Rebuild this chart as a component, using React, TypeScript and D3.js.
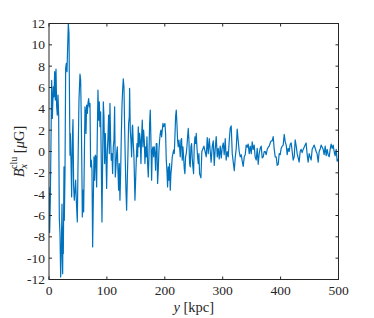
import React from "react";
import * as d3 from "d3";

const positionKpc = [
  0, 1.15, 2.3, 4.6, 5.75, 7.48, 8.63, 9.78, 10.93, 12.08, 13.23, 14.38, 15.54, 16.69, 17.84, 18.99, 20.14, 21.29, 22.44, 23.59, 24.17, 24.74, 25.89, 26.47, 27.62, 28.77, 29.92, 31.07, 32.22, 33.37, 34.52, 35.67, 36.25, 36.82, 37.97, 39.13, 40.28, 41.43, 42.58, 43.73, 44.88, 46.03, 47.18, 48.91, 50.06, 51.78, 53.51, 54.66, 55.81, 56.96, 57.54, 58.69, 59.84, 60.99, 62.14, 63.29, 63.87, 65.02, 66.17, 67.32, 68.47, 69.62, 70.77, 71.92, 73.07, 74.22, 75.37, 76.52, 77.68, 78.83, 79.98, 81.13, 82.28, 83.43, 84.58, 85.73, 86.88, 88.03, 89.18, 90.33, 91.48, 92.64, 93.79, 94.94, 96.09, 97.24, 98.39, 99.54, 100.69, 101.84, 102.99, 104.14, 105.29, 106.44, 107.59, 108.75, 109.9, 111.05, 112.2, 113.35, 114.5, 115.65, 116.8, 117.95, 119.1, 120.25, 121.4, 122.55, 123.7, 124.86, 126.01, 127.16, 128.31, 129.46, 130.61, 131.76, 132.91, 134.06, 135.21, 136.36, 137.51, 138.67, 139.24, 140.39, 141.54, 142.69, 143.84, 144.42, 145.57, 146.72, 148.45, 149.6, 150.75, 151.9, 153.05, 154.2, 155.35, 156.5, 157.65, 158.8, 159.95, 161.1, 162.26, 163.41, 164.56, 165.71, 166.86, 168.01, 169.16, 170.31, 171.46, 172.61, 173.76, 174.91, 176.06, 177.21, 178.37, 179.52, 180.67, 181.82, 182.97, 184.12, 185.27, 186.42, 187.57, 188.72, 189.87, 191.02, 192.17, 193.33, 194.48, 195.63, 196.78, 197.93, 199.08, 200.23, 201.38, 202.53, 203.68, 204.83, 205.98, 207.13, 208.29, 209.44, 210.59, 211.74, 212.89, 214.04, 215.19, 216.34, 217.49, 218.64, 219.79, 220.94, 222.09, 223.24, 224.4, 225.55, 226.7, 227.85, 229.0, 230.15, 231.3, 232.45, 233.6, 234.75, 235.9, 237.05, 238.2, 239.36, 240.51, 241.66, 242.81, 243.96, 245.11, 246.26, 247.41, 248.56, 249.71, 250.86, 252.01, 253.16, 254.31, 255.47, 256.62, 257.77, 258.92, 260.07, 262.37, 264, 267.5, 271.6, 273.3, 275, 276.8, 278.5, 280, 282, 283.7, 285.4, 287, 288.8, 290.6, 292.3, 294, 295.7, 297.5, 299, 301, 302.6, 304.4, 306, 307.8, 309.6, 311.3, 313, 314.7, 316.5, 318.2, 320, 321.6, 323.4, 325, 326.8, 328.5, 330.3, 332, 333.7, 335.4, 337.2, 338.9, 340.6, 342.3, 344, 345.8, 347.5, 349.3, 351, 352.7, 354.4, 356, 357.9, 359.6, 361.3, 363, 364.8, 366.5, 368.2, 370, 371.7, 373.4, 375.1, 376.9, 378.6, 380.3, 382, 383.8, 385.5, 387.2, 389, 390.7, 392.4, 394.1, 395.9, 397.6, 399.3, 401, 402.8, 404.5, 406.2, 408, 409.7, 411.4, 413, 414.8, 416.6, 418.3, 420, 421.7, 423.5, 425.2, 427, 428.6, 430.4, 432, 433.8, 435.5, 437.2, 439, 440.7, 442.4, 444.1, 445.9, 447.6, 449.3, 451, 452.8, 454.5, 456.2, 458, 459.7, 461.4, 463, 464.9, 466.6, 468.3, 470, 471.8, 473.5, 475.2, 477, 478.7, 480.4, 482.1, 483.9, 485.6, 487.3, 489, 490.8, 492.5, 494.2, 496, 497.7, 500,
];

const bxClu = [
  -3.32, -7.6, -4.57, 6.66, 3.1, 6.07, 5.13, 7.48, 4.82, 7.73, 4.19, 3.41, 5.29, 3.41, -6.29, -7.7, -11.76, -9.26, -4.94, -11.45, -7.07, -9.57, -1.44, -6.45, -2.07, 7.79, 8.26, 7.48, 9.82, 12.0, 11.08, 3.25, -0.34, 1.69, -0.81, -4.26, 1.06, 3.0, -3.32, -4.57, -3.63, -2.69, -4.57, -6.6, -1.44, 4.82, 7.26, 6.7, 2.94, -2.69, -6.13, -3.63, -5.66, -0.81, 4.19, 3.57, 1.69, 4.35, 3.57, 4.51, 4.97, 4.19, 4.51, -1.44, -0.81, -1.75, -8.95, -4.57, -0.5, -2.69, -0.34, -0.5, -3.32, 1.69, 5.76, 2.94, 4.66, 2.32, 3.72, -1.13, -6.6, -0.81, 4.66, 3.25, -1.13, 1.69, -0.5, -3.47, -0.03, 1.38, 3.41, -0.19, 4.51, 1.06, -0.81, -0.19, -2.07, 0.44, 1.06, 4.19, -2.38, -1.44, -0.19, 0.44, -1.75, -3.63, -1.13, -4.57, -2.07, 1.38, 4.19, 5.76, 6.82, 6.07, 2.32, -0.81, -3.63, -5.51, -2.69, -0.19, 2.63, 3.25, 5.91, 2.0, 1.06, -0.5, 2.32, 2.47, 0.75, -0.5, -4.57, -2.69, -0.81, 0.75, -0.5, 2.32, 0.44, 1.69, 1.06, -1.13, 1.38, 2.94, 0.44, 2.0, 1.06, -1.13, 0.44, -0.5, 1.38, -1.13, -2.38, -0.5, 2.63, 3.88, 1.06, -2.69, 0.13, 0.44, -0.5, 0.44, -0.19, -1.75, 0.75, 0.75, -3.0, -1.75, 0.13, 1.06, 1.69, 2.0, 1.38, 2.0, 2.63, 2.32, 2.47, 2.63, 1.69, -0.81, -1.75, -3.32, -1.44, -2.69, -1.13, -3.63, -2.07, -1.44, -0.5, -0.19, 0.13, -0.19, 1.38, 3.25, 3.88, 2.63, 1.06, 0.44, 1.06, 0.44, -0.5, 1.06, 1.22, -0.81, 0.44, -0.5, -1.6, -2.07, -0.5, -0.19, 0.44, 1.38, 2.16, 1.06, -1.13, -1.44, 0.44, 0.75, -0.66, -1.44, -2.07, 0.44, 1.38, 0.75, 1.69, 0.44, -0.5, -1.13, -0.19, -2.07, -2.47, 0, 0.5, -0.5, 1.3, -0.2, 1.2, 0, -1.0, 0.5, 1.0, -1.3, 0.2, 1.4, -0.5, 0.3, -0.7, 0.5, -0.6, 0.3, 0.8, -0.3, 1.2, -0.8, 0, -0.5, 1.0, 2.2, 2.4, -0.2, -1.0, -1.8, -0.6, 0.3, 2.1, 1.0, 0, -0.5, -0.3, -0.9, -1.4, -0.5, -0.3, 0.6, 0.4, 0.7, -0.2, 0.5, -0.2, 0.9, 0.2, 0.6, -0.5, -0.8, 0.3, -1.2, -0.2, 0.3, 0.5, -0.6, -0.5, 0, 0, -0.3, 0.2, 0.4, 0.5, 0.8, 1.0, 1.0, 1.4, 0.2, -0.5, -0.5, -1.3, -1.2, -0.2, -0.3, 0.3, 0.5, 0.6, 1.6, 0.9, 0.6, -0.3, 0.3, 0, 0.7, 0.8, 0, -0.8, -0.5, 1.1, 0.5, -0.2, -0.6, -1.0, 0, 0.2, -0.1, 0.2, 0.4, 0.6, 0.8, -0.3, -1.0, -0.2, -0.5, -0.8, 0.2, 0.4, 0.6, 0.3, 0, -0.2, -1.0, 0, 0.2, 0.6, 0.4, 0.2, -0.3, 0.5, -0.4, 0.2, -0.3, -0.5, 0.2, 0.7, 0.3, 0.6, 0, -0.4, 0.2, -0.9, -0.7,
];

const xTicks = [0, 100, 200, 300, 400, 500];
const yTicks = [-12, -10, -8, -6, -4, -2, 0, 2, 4, 6, 8, 10, 12];

const W = 374;
const H = 318;
const M = { left: 49, right: 338.5, top: 23.5, bottom: 279.5 };
const FONT = "'Liberation Serif', 'DejaVu Serif', serif";

export default function App() {
  const x = d3.scaleLinear().domain([0, 500]).range([M.left, M.right]);
  const y = d3.scaleLinear().domain([-12, 12]).range([M.bottom, M.top]);
  const pts: [number, number][] = positionKpc.map((p, i) => [p, bxClu[i]]);
  const line = d3
    .line<[number, number]>()
    .x((d) => x(d[0]))
    .y((d) => y(d[1]));
  const axisColor = "#262626";
  const tl = 3;
  return (
    <svg
      width={W}
      height={H}
      style={{ position: "absolute", left: 0, top: 0, background: "#fff" }}
    >
      <defs>
        <clipPath id="plotclip">
          <rect x={M.left} y={M.top} width={M.right - M.left} height={M.bottom - M.top} />
        </clipPath>
      </defs>
      <path
        d={line(pts) || ""}
        fill="none"
        stroke="#0072BD"
        strokeWidth={1.2}
        strokeLinejoin="round"
        clipPath="url(#plotclip)"
      />
      <rect
        x={M.left}
        y={M.top}
        width={M.right - M.left}
        height={M.bottom - M.top}
        fill="none"
        stroke={axisColor}
        strokeWidth={1}
      />
      {xTicks.map((t) => (
        <g key={"x" + t}>
          <line x1={x(t)} x2={x(t)} y1={M.bottom} y2={M.bottom - tl} stroke={axisColor} />
          <line x1={x(t)} x2={x(t)} y1={M.top} y2={M.top + tl} stroke={axisColor} />
          <text
            x={x(t)}
            y={295}
            textAnchor="middle"
            fontFamily={FONT}
            fontSize={13.5}
            fill="#262626"
          >
            {t}
          </text>
        </g>
      ))}
      {yTicks.map((t) => (
        <g key={"y" + t}>
          <line x1={M.left} x2={M.left + tl} y1={y(t)} y2={y(t)} stroke={axisColor} />
          <line x1={M.right} x2={M.right - tl} y1={y(t)} y2={y(t)} stroke={axisColor} />
          <text
            x={45}
            y={y(t) + 4.5}
            textAnchor="end"
            fontFamily={FONT}
            fontSize={13.5}
            fill="#262626"
          >
            {t}
          </text>
        </g>
      ))}
      <text
        x={(M.left + M.right) / 2}
        y={312}
        textAnchor="middle"
        fontFamily={FONT}
        fontSize={14.5}
        fill="#262626"
      >
        <tspan fontStyle="italic">y</tspan>
        <tspan> [kpc]</tspan>
      </text>
      <text
        transform={`translate(24,${(M.top + M.bottom) / 2}) rotate(-90)`}
        textAnchor="middle"
        fontFamily={FONT}
        fontSize={14.5}
        fill="#262626"
      >
        <tspan fontStyle="italic">B</tspan>
        <tspan fontStyle="italic" fontSize={10} dy={3}>x</tspan>
        <tspan fontSize={10} dy={-10} dx={-5}>clu</tspan>
        <tspan dy={7}> [</tspan>
        <tspan fontStyle="italic">μ</tspan>
        <tspan>G]</tspan>
      </text>
    </svg>
  );
}
